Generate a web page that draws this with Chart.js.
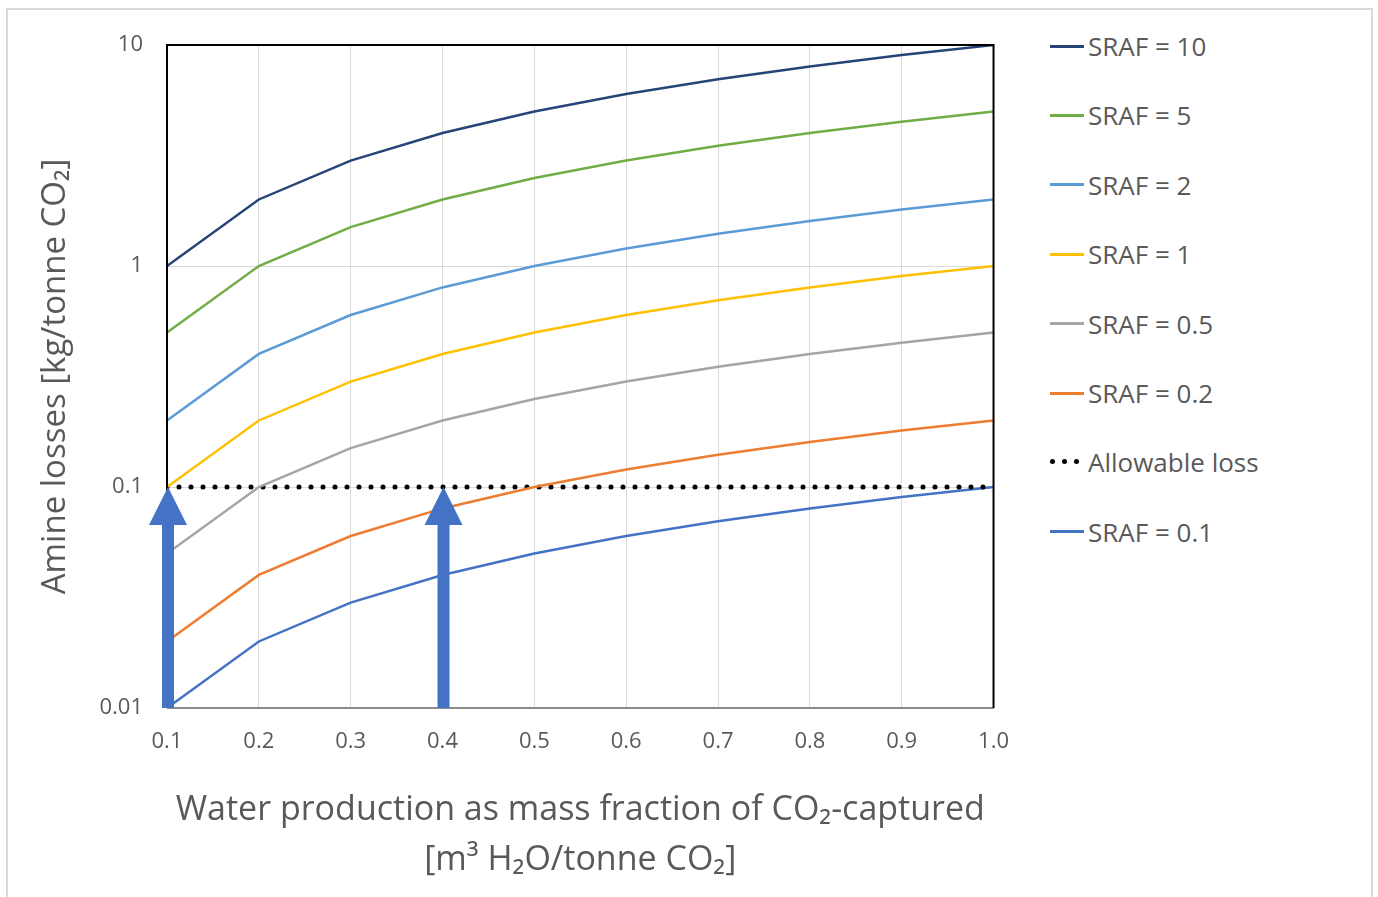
<!DOCTYPE html>
<html>
<head>
<meta charset="utf-8">
<script src="https://cdn.jsdelivr.net/npm/chart.js@4.4.1/dist/chart.umd.min.js"></script>
<style>
  body { margin: 0; background: #fff; }
  #frame { position: absolute; left: 6px; top: 8px; width: 1363px; height: 900px; border: 2px solid #dadada; }
  #wrap { position: absolute; left: 0; top: 0; width: 1030px; height: 897px; }
  #legend { position: absolute; left: 1050px; top: 0; font-family: 'Open Sans'; font-size: 26px; color: #595959; }
  .item { position: absolute; left: 0; height: 30px; display: flex; align-items: center; white-space: nowrap; }
  .swatch { width: 34px; height: 3px; margin-right: 4px; }
  .dots { width: 34px; height: 6px; margin-right: 4px; position: relative; }
  .dots span { position: absolute; top: 0; width: 5px; height: 5px; border-radius: 50%; background: #000; }
</style>
</head>
<body>
<div id="frame"></div>
<div id="wrap"><canvas id="chart" width="1030" height="897"></canvas></div>
<div id="legend"></div>
<script>
document.addEventListener("DOMContentLoaded", function () {

  // water production [m3 H2O / tonne CO2]
  const X_VALUES = [0.1, 0.2, 0.3, 0.4, 0.5, 0.6, 0.7, 0.8, 0.9, 1.0];

  // amine losses [kg / tonne CO2]
  const SRAF_10  = [1, 2, 3, 4, 5, 6, 7, 8, 9, 10];
  const SRAF_5   = [0.5, 1, 1.5, 2, 2.5, 3, 3.5, 4, 4.5, 5];
  const SRAF_2   = [0.2, 0.4, 0.6, 0.8, 1.0, 1.2, 1.4, 1.6, 1.8, 2];
  const SRAF_1   = [0.1, 0.2, 0.3, 0.4, 0.5, 0.6, 0.7, 0.8, 0.9, 1];
  const SRAF_05  = [0.05, 0.1, 0.15, 0.2, 0.25, 0.3, 0.35, 0.4, 0.45, 0.5];
  const SRAF_02  = [0.02, 0.04, 0.06, 0.08, 0.1, 0.12, 0.14, 0.16, 0.18, 0.2];
  const ALLOWABLE = [0.1, 0.1, 0.1, 0.1, 0.1, 0.1, 0.1, 0.1, 0.1, 0.1];
  const SRAF_01  = [0.01, 0.02, 0.03, 0.04, 0.05, 0.06, 0.07, 0.08, 0.09, 0.1];

  const Y_TICKS = [0.01, 0.1, 1, 10];

  // the two arrows (x positions, from / to on the y axis)
  const ARROW_X = [0.1, 0.4];
  const ARROW_FROM = 0.01;
  const ARROW_TO = 0.1;

  const series = [
    { label: 'SRAF = 10',      data: SRAF_10,   color: '#264478' },
    { label: 'SRAF = 5',       data: SRAF_5,    color: '#70AD47' },
    { label: 'SRAF = 2',       data: SRAF_2,    color: '#5B9BD5' },
    { label: 'SRAF = 1',       data: SRAF_1,    color: '#FFC000' },
    { label: 'SRAF = 0.5',     data: SRAF_05,   color: '#A5A5A5' },
    { label: 'SRAF = 0.2',     data: SRAF_02,   color: '#ED7D31' },
    { label: 'Allowable loss', data: ALLOWABLE, color: '#000000', dotted: true },
    { label: 'SRAF = 0.1',     data: SRAF_01,   color: '#4472C4' }
  ];

  const datasets = series.map(s => ({
    label: s.label,
    data: X_VALUES.map((x, i) => ({ x: x, y: s.data[i] })),
    borderColor: s.color,
    backgroundColor: s.color,
    borderWidth: s.dotted ? 5 : 2.5,
    borderDash: s.dotted ? [0, 12] : [],
    borderCapStyle: s.dotted ? 'round' : 'butt',
    pointRadius: 0,
    tension: 0,
    fill: false
  }));

  const GRID = '#d9d9d9';
  const TEXT = '#595959';

  // plot frame, then arrows on top
  const decorations = {
    id: 'decorations',
    afterDatasetsDraw(chart) {
      const { ctx, chartArea: a, scales } = chart;
      const xs = scales.x, ys = scales.y;

      ctx.save();
      ctx.lineWidth = 2;
      ctx.strokeStyle = '#8c8c8c';
      ctx.beginPath();
      ctx.moveTo(a.left, a.bottom);
      ctx.lineTo(a.right, a.bottom);
      ctx.stroke();

      ctx.strokeStyle = '#000';
      ctx.beginPath();
      ctx.moveTo(a.left, a.bottom);
      ctx.lineTo(a.left, a.top);
      ctx.lineTo(a.right, a.top);
      ctx.lineTo(a.right, a.bottom);
      ctx.stroke();

      ctx.fillStyle = '#4472C4';
      const tipY = ys.getPixelForValue(ARROW_TO);
      const baseY = ys.getPixelForValue(ARROW_FROM);
      ARROW_X.forEach(v => {
        const cx = xs.getPixelForValue(v) + 1;
        const headH = 38, headW = 19, shaftW = 6;
        ctx.beginPath();
        ctx.moveTo(cx, tipY);
        ctx.lineTo(cx + headW, tipY + headH);
        ctx.lineTo(cx + shaftW, tipY + headH);
        ctx.lineTo(cx + shaftW, baseY);
        ctx.lineTo(cx - shaftW, baseY);
        ctx.lineTo(cx - shaftW, tipY + headH);
        ctx.lineTo(cx - headW, tipY + headH);
        ctx.closePath();
        ctx.fill();
      });
      ctx.restore();
    }
  };

  const chart = new Chart(document.getElementById('chart'), {
    type: 'line',
    data: { datasets: datasets },
    plugins: [decorations],
    options: {
      responsive: false,
      animation: false,
      layout: { padding: { left: 0, top: 45, right: 36, bottom: 0 } },
      plugins: { legend: { display: false }, tooltip: { enabled: false } },
      scales: {
        x: {
          type: 'linear',
          min: 0.1,
          max: 1.0,
          afterFit(scale) { scale.height = 189; },
          afterBuildTicks(scale) { scale.ticks = X_VALUES.map(v => ({ value: v })); },
          ticks: {
            padding: 21,
            color: TEXT,
            font: { family: 'Open Sans', size: 22 },
            callback: v => Number(v).toFixed(1)
          },
          grid: { color: GRID, lineWidth: 1, drawTicks: false },
          border: { display: false },
          title: {
            display: true,
            text: ['Water production as mass fraction of CO\u2082-captured', '[m\u00B3 H\u2082O/tonne CO\u2082]'],
            color: TEXT,
            font: { family: 'Open Sans', size: 34, lineHeight: 1.47 },
            padding: { top: 0, bottom: 12 }
          }
        },
        y: {
          type: 'logarithmic',
          min: 0.01,
          max: 10,
          afterFit(scale) { scale.width = 167; },
          afterBuildTicks(scale) { scale.ticks = Y_TICKS.map(v => ({ value: v, major: true })); },
          ticks: {
            padding: 24,
            color: TEXT,
            font: { family: 'Open Sans', size: 22 },
            callback: v => String(v)
          },
          grid: { color: GRID, lineWidth: 1, drawTicks: false },
          border: { display: false },
          title: {
            display: true,
            text: 'Amine losses [kg/tonne CO\u2082]',
            color: TEXT,
            font: { family: 'Open Sans', size: 33, lineHeight: 1.2 },
            padding: { top: 36, bottom: 0 }
          }
        }
      }
    }
  });

  // legend, built from the chart datasets
  const legend = document.getElementById('legend');
  chart.data.datasets.forEach((ds, i) => {
    const item = document.createElement('div');
    item.className = 'item';
    item.style.top = (47 + i * 69.4 - 16) + 'px';
    let sw;
    if (ds.borderDash.length) {
      sw = document.createElement('div');
      sw.className = 'dots';
      [0, 12, 24].forEach(x => {
        const d = document.createElement('span');
        d.style.left = x + 'px';
        sw.appendChild(d);
      });
    } else {
      sw = document.createElement('div');
      sw.className = 'swatch';
      sw.style.background = ds.borderColor;
    }
    item.appendChild(sw);
    const t = document.createElement('span');
    t.textContent = ds.label;
    item.appendChild(t);
    legend.appendChild(item);
  });

});
</script>
</body>
</html>
